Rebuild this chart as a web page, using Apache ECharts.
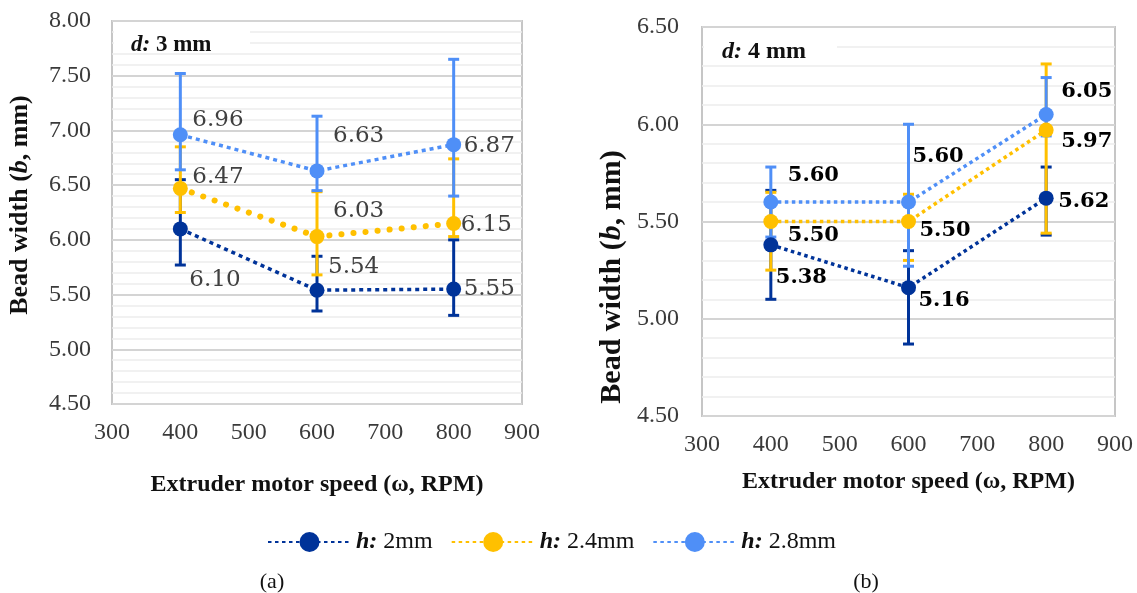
<!DOCTYPE html>
<html>
<head>
<meta charset="utf-8">
<script src="https://cdn.jsdelivr.net/npm/echarts@6/dist/echarts.min.js"></script>
<style>
html,body{margin:0;padding:0;background:#fff;}
#chart{width:1137px;height:593px;}
</style>
</head>
<body>
<div id="chart"></div>
<script>
// ---------- data ----------
const speeds = [400, 600, 800];
const seriesNames = ['2mm', '2.4mm', '2.8mm'];
const xTickMin = 300, xTickMax = 900, xTickStep = 100;

// panel (a) d: 3 mm
const a_h2    = [6.10, 5.54, 5.55];
const a_h2_lo = [5.77, 5.35, 5.31];
const a_h2_hi = [6.55, 5.85, 6.00];
const a_h24    = [6.47, 6.03, 6.15];
const a_h24_lo = [6.25, 5.68, 6.03];
const a_h24_hi = [6.85, 6.44, 6.74];
const a_h28    = [6.96, 6.63, 6.87];
const a_h28_lo = [6.64, 6.45, 6.40];
const a_h28_hi = [7.52, 7.13, 7.65];

// panel (b) d: 4 mm
const b_h2    = [5.38, 5.16, 5.62];
const b_h2_lo = [5.10, 4.87, 5.43];
const b_h2_hi = [5.66, 5.35, 5.78];
const b_h24    = [5.50, 5.50, 5.97];
const b_h24_lo = [5.25, 5.30, 5.44];
const b_h24_hi = [5.65, 5.64, 6.31];
const b_h28    = [5.60, 5.60, 6.05];
const b_h28_lo = [5.42, 5.27, 5.94];
const b_h28_hi = [5.78, 6.00, 6.24];

// ---------- styling ----------
const colors = {'2mm': '#003399', '2.4mm': '#ffc000', '2.8mm': '#4f8ff7'};
// label offsets [dx, dy] relative to the marker centre
const labelOffA = {
  '2mm':   [[9, 51], [11, -23], [10, 0]],
  '2.4mm': [[12, -11], [16, -26], [7, 2]],
  '2.8mm': [[12, -15], [16, -35], [10, 1]]
};
const labelOffB = {
  '2mm':   [[5, 33], [10, 13], [12, 3]],
  '2.4mm': [[17, 14], [11, 9], [15, 11]],
  '2.8mm': [[17, -27], [4, -46], [15, -23]]
};
const serif = '"Liberation Serif", "Times New Roman", serif';
const labelFont = '"DejaVu Serif", serif';

function pts(vals) { return speeds.map((s, i) => [s, vals[i]]); }
function errPts(lo, hi) { return speeds.map((s, i) => [s, lo[i], hi[i]]); }

function errRender(color) {
  return function (params, api) {
    const x = api.value(0), lo = api.value(1), hi = api.value(2);
    const p1 = api.coord([x, hi]), p2 = api.coord([x, lo]);
    const w = 5.5, st = {stroke: color, lineWidth: 3};
    return {
      type: 'group',
      children: [
        {type: 'line', shape: {x1: p1[0], y1: p1[1], x2: p2[0], y2: p2[1]}, style: st},
        {type: 'line', shape: {x1: p1[0] - w, y1: p1[1], x2: p1[0] + w, y2: p1[1]}, style: st},
        {type: 'line', shape: {x1: p2[0] - w, y1: p2[1], x2: p2[0] + w, y2: p2[1]}, style: st}
      ]
    };
  };
}

function errSeries(name, lo, hi, axis) {
  return {
    type: 'custom', name: 'err-' + name + '-' + axis, xAxisIndex: axis, yAxisIndex: axis,
    data: errPts(lo, hi), renderItem: errRender(colors[name]), silent: true, z: 2,
    encode: {x: 0, y: [1, 2]}
  };
}

function lineSeries(name, vals, axis, offs, labelStyle, lineStyle) {
  return {
    type: 'line', name: name, xAxisIndex: axis, yAxisIndex: axis,
    data: pts(vals).map((p, i) => ({
      value: p,
      label: {offset: offs[name][i]}
    })),
    symbol: 'circle', symbolSize: 15, z: 3,
    itemStyle: {color: colors[name]},
    lineStyle: Object.assign({color: colors[name]}, lineStyle),
    label: Object.assign({
      show: true, position: 'inside', align: 'left', verticalAlign: 'middle',
      formatter: p => p.value[1].toFixed(2),
      fontFamily: labelFont
    }, labelStyle),
    emphasis: {disabled: true}, animation: false
  };
}

const dotLineB = {type: [3.5, 3.5], width: 3.5, cap: 'butt'};
const dotLineA = {type: [4, 4], width: 3.5, cap: 'butt'};
const roundDots = {type: [0.1, 12], width: 6, cap: 'round'};
const labelA = {fontSize: 23, color: '#404040'};
const labelB = {fontSize: 21, color: '#000', fontWeight: 'bold'};

function yAxisCfg(grid, min, max) {
  return {
    type: 'value', gridIndex: grid, min: min, max: max, interval: 0.5,
    axisLine: {show: false}, axisTick: {show: false},
    axisLabel: {formatter: v => v.toFixed(2), fontFamily: serif, fontSize: 24, color: '#3a3a3a', margin: grid === 0 ? 21 : 23},
    splitLine: {show: true, lineStyle: {color: '#d4d4d4', width: 2}},
    minorTick: {show: false, splitNumber: 5},
    minorSplitLine: {show: true, lineStyle: {color: '#ededed', width: 1.5}}
  };
}
function xAxisCfg(grid, nameGap) {
  return {
    type: 'value', gridIndex: grid, min: xTickMin, max: xTickMax, interval: xTickStep,
    axisLine: {show: false}, axisTick: {show: false}, splitLine: {show: false},
    axisLabel: {fontFamily: serif, fontSize: 24, color: '#3a3a3a', margin: 17},
    name: 'Extruder motor speed (ω, RPM)', nameLocation: 'middle', nameGap: nameGap,
    nameTextStyle: {fontFamily: serif, fontSize: 24, fontWeight: 'bold', color: '#111'}
  };
}

const option = {
  backgroundColor: '#ffffff',
  animation: false,
  grid: [
    {left: 112, right: 1137 - 522, top: 21, bottom: 593 - 404, show: true, borderColor: '#c6c6c6', borderWidth: 2},
    {left: 702, right: 1137 - 1115, top: 27, bottom: 593 - 416, show: true, borderColor: '#c6c6c6', borderWidth: 2}
  ],
  xAxis: [xAxisCfg(0, 69), xAxisCfg(1, 54)],
  yAxis: [yAxisCfg(0, 4.5, 8), yAxisCfg(1, 4.5, 6.5)],
  legend: {
    data: seriesNames, left: 262, top: 525, itemWidth: 83, itemHeight: 25, itemGap: 18,
    formatter: n => '{h|h:} ' + n,
    textStyle: {fontFamily: serif, fontSize: 24, color: '#111',
      rich: {h: {fontFamily: serif, fontSize: 24, fontWeight: 'bold', fontStyle: 'italic', color: '#111'}}},
    selectedMode: false
  },
  graphic: [
    {type: 'rect', z: 100, shape: {x: 114, y: 23, width: 136, height: 30}, style: {fill: '#fff'}},
    {type: 'text', z: 101, x: 131, y: 45, style: {text: '{i|d:} 3 mm', fontFamily: serif, fontSize: 23, fontWeight: 'bold', fill: '#111', verticalAlign: 'middle',
      rich: {i: {fontFamily: serif, fontSize: 23, fontWeight: 'bold', fontStyle: 'italic', fill: '#111'}}}},
    {type: 'rect', z: 100, shape: {x: 704, y: 29, width: 133, height: 36}, style: {fill: '#fff'}},
    {type: 'text', z: 101, x: 722, y: 52, style: {text: '{i|d:} 4 mm', fontFamily: serif, fontSize: 24, fontWeight: 'bold', fill: '#111', verticalAlign: 'middle',
      rich: {i: {fontFamily: serif, fontSize: 24, fontWeight: 'bold', fontStyle: 'italic', fill: '#111'}}}},
    {type: 'text', z: 101, x: 20, y: 205, rotation: Math.PI / 2,
      style: {text: 'Bead width ({i|b}, mm)', fontFamily: serif, fontSize: 26, fontWeight: 'bold', fill: '#111', align: 'center', verticalAlign: 'middle',
        rich: {i: {fontFamily: serif, fontSize: 26, fontWeight: 'bold', fontStyle: 'italic', fill: '#111'}}}},
    {type: 'text', z: 101, x: 612, y: 277, rotation: Math.PI / 2,
      style: {text: 'Bead width ({i|b}, mm)', fontFamily: serif, fontSize: 30, fontWeight: 'bold', fill: '#111', align: 'center', verticalAlign: 'middle',
        rich: {i: {fontFamily: serif, fontSize: 30, fontWeight: 'bold', fontStyle: 'italic', fill: '#111'}}}},
    {type: 'text', z: 101, x: 272, y: 582, style: {text: '(a)', fontFamily: serif, fontSize: 22, fill: '#111', align: 'center', verticalAlign: 'middle'}},
    {type: 'text', z: 101, x: 866, y: 582, style: {text: '(b)', fontFamily: serif, fontSize: 22, fill: '#111', align: 'center', verticalAlign: 'middle'}}
  ],
  series: [
    // panel (b) first so the legend icons use the uniform dotted style
    errSeries('2mm', b_h2_lo, b_h2_hi, 1),
    errSeries('2.4mm', b_h24_lo, b_h24_hi, 1),
    errSeries('2.8mm', b_h28_lo, b_h28_hi, 1),
    lineSeries('2mm', b_h2, 1, labelOffB, labelB, dotLineB),
    lineSeries('2.4mm', b_h24, 1, labelOffB, labelB, dotLineB),
    lineSeries('2.8mm', b_h28, 1, labelOffB, labelB, dotLineB),
    // panel (a)
    errSeries('2mm', a_h2_lo, a_h2_hi, 0),
    errSeries('2.4mm', a_h24_lo, a_h24_hi, 0),
    errSeries('2.8mm', a_h28_lo, a_h28_hi, 0),
    lineSeries('2mm', a_h2, 0, labelOffA, labelA, dotLineA),
    lineSeries('2.4mm', a_h24, 0, labelOffA, labelA, roundDots),
    lineSeries('2.8mm', a_h28, 0, labelOffA, labelA, dotLineA)
  ]
};

const chart = echarts.init(document.getElementById('chart'), null, {renderer: 'canvas'});
chart.setOption(option);
</script>
</body>
</html>
